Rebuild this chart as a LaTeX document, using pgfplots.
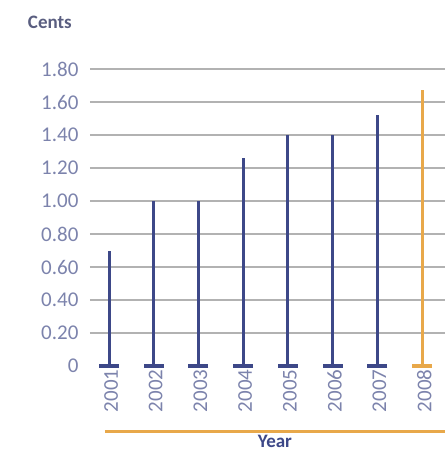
\documentclass[border=0pt]{standalone}
\usepackage{pgfplots}
\pgfplotsset{compat=1.18}
\usepackage{fontspec}
\setmainfont{Carlito}
\definecolor{navy}{HTML}{3D4888}
\definecolor{amber}{HTML}{E8A84A}
\definecolor{gridgray}{HTML}{B2B2B2}
\definecolor{ticktext}{HTML}{7C83AC}
\definecolor{labeltext}{HTML}{5A5E80}
\begin{document}
\begin{tikzpicture}
 \useasboundingbox (-90pt,-85pt) rectangle (355pt,366pt);
 \begin{axis}[
  scale only axis,
  width=355pt,
  height=297pt,
  xmin=2000.575, xmax=2008.51,
  ymin=0, ymax=1.8,
  clip=false,
  axis line style={draw=none},
  major tick length=0pt,
  xtick={2001,...,2008},
  xticklabel style={rotate=90, anchor=east, yshift=-2pt, color=ticktext, font=\fontsize{21}{21}\selectfont},
  x tick label style={/pgf/number format/1000 sep={}},
  ytick={0.2,0.4,...,1.8},
  yticklabel style={xshift=-8pt, color=ticktext, font=\fontsize{21}{21}\selectfont,
   /pgf/number format/.cd, fixed, fixed zerofill, precision=2},
  extra y ticks={0},
  extra y tick style={grid=none, yticklabel style={/pgf/number format/precision=0}},
  /pgf/number format/assume math mode=true,
  ymajorgrids,
  grid style={gridgray, line width=1.6pt},
  xlabel={\textbf{Year}},
  xlabel style={at={(axis description cs:0.521,-0.253)}, anchor=center, color=navy, font=\fontsize{19}{19}\selectfont},
  ylabel={\textbf{Cents}},
  ylabel style={at={(axis description cs:-0.113,1.158)}, anchor=center, rotate=-90, color=labeltext, font=\fontsize{19}{19}\selectfont},
  ]
  \addplot[ycomb, navy, line width=3pt] coordinates {
   (2001, 0.70)
   (2002, 1.00)
   (2003, 1.00)
   (2004, 1.26)
   (2005, 1.40)
   (2006, 1.40)
   (2007, 1.52)};
  \addplot[ycomb, amber, line width=3pt] coordinates {
   (2008, 1.67)};
  \addplot[only marks, mark=-, mark size=10pt, navy, line width=4pt] coordinates {
   (2001, 0) (2002, 0) (2003, 0) (2004, 0) (2005, 0) (2006, 0) (2007, 0)};
  \addplot[only marks, mark=-, mark size=10pt, amber, line width=4pt] coordinates {
   (2008, 0)};
  \draw[amber, line width=3pt] (rel axis cs:0.042,-0.219) -- (rel axis cs:1,-0.219);
 \end{axis}
\end{tikzpicture}
\end{document}
